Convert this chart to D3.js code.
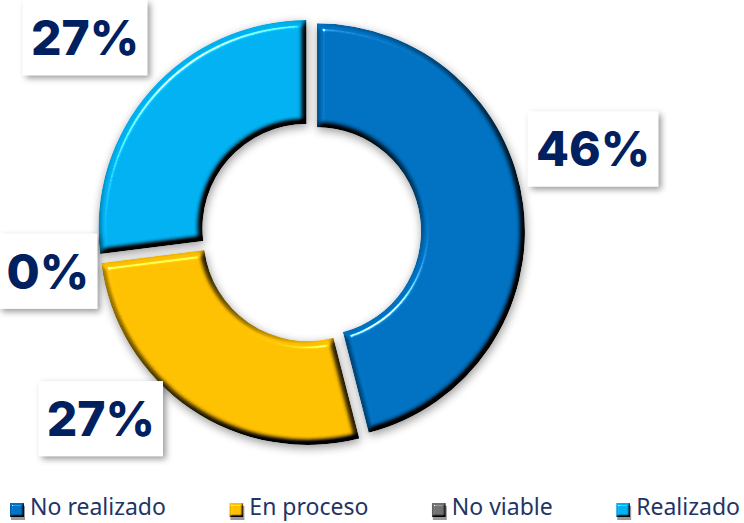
<!DOCTYPE html>
<html>
<head>
<meta charset="utf-8">
<script src="https://cdn.jsdelivr.net/npm/d3@7"></script>
<style>
  body { margin: 0; background: #fff; }
  svg { display: block; }
  .pctLabel { font-family: Inter, "Noto Sans", sans-serif; font-weight: 800; fill: #002060; }
  .legendText { font-family: "Noto Sans", "Open Sans", sans-serif; fill: #1f3565; }
</style>
</head>
<body>
<div id="chart"></div>
<script>
// chart data
var categories = ["No realizado", "En proceso", "No viable", "Realizado"];
var percents = [46, 27, 0, 27];
var colors = ["#0070c0", "#ffc000", "#707070", "#00b0f0"];

var svgWidth = 744;
var svgHeight = 523;

var cx = 311, cy = 232;
var outerR = 208, innerR = 104;
var explode = 6;

// label placement: shift from slice mid angle (degrees) and distance from centre
var labelShift = [-9.2, 14.2, -1.3, -0.7];
var labelDist = [294, 281, 266, 298];

var svg = d3.select("#chart")
  .append("svg")
  .attr("width", svgWidth)
  .attr("height", svgHeight);

var defs = svg.append("defs");

// bevel + soft shadow, like the excel 3d format
function bevelFilter(id, blur, scale, shadowBlur) {
  defs.append("filter")
    .attr("id", id)
    .attr("x", "-20%").attr("y", "-20%")
    .attr("width", "140%").attr("height", "140%")
    .attr("color-interpolation-filters", "sRGB")
    .html(
      `<feGaussianBlur in="SourceAlpha" stdDeviation="${blur}" result="blur"/>` +
      `<feDiffuseLighting in="blur" surfaceScale="${scale}" diffuseConstant="1.22" lighting-color="#fff" result="diff">` +
      '  <feDistantLight azimuth="235" elevation="55"/></feDiffuseLighting>' +
      '<feComposite in="SourceGraphic" in2="diff" operator="arithmetic" k1="1" k2="0" k3="0" k4="0" result="shaded"/>' +
      `<feSpecularLighting in="blur" surfaceScale="${scale}" specularConstant="1.1" specularExponent="50" lighting-color="#fff" result="spec">` +
      '  <feDistantLight azimuth="235" elevation="40"/></feSpecularLighting>' +
      '<feComposite in="spec" in2="SourceAlpha" operator="in" result="specIn"/>' +
      '<feComposite in="shaded" in2="specIn" operator="arithmetic" k1="0" k2="1" k3="1" k4="0" result="lit"/>' +
      '<feComposite in="lit" in2="SourceAlpha" operator="in" result="final"/>' +
      `<feGaussianBlur in="SourceAlpha" stdDeviation="${shadowBlur}" result="sb"/>` +
      '<feOffset in="sb" dx="1" dy="3" result="so"/>' +
      '<feComponentTransfer in="so" result="sh"><feFuncA type="linear" slope="0.4"/></feComponentTransfer>' +
      '<feMerge><feMergeNode in="sh"/><feMergeNode in="final"/></feMerge>'
    );
}
bevelFilter("bevel", 3, 10, 5);
bevelFilter("bevelSmall", 1.2, 3, 0.5);

defs.append("filter")
  .attr("id", "boxShadow")
  .attr("x", "-20%").attr("y", "-20%")
  .attr("width", "140%").attr("height", "140%")
  .html('<feDropShadow dx="3" dy="3" stdDeviation="3" flood-color="#000" flood-opacity="0.4"/>');

// pie layout, clockwise from 12 o'clock
var pie = d3.pie()
  .sort(null)
  .value(d => d);

var arcs = pie(percents);

var arc = d3.arc()
  .innerRadius(innerR)
  .outerRadius(outerR);

var chartGroup = svg.append("g")
  .attr("transform", `translate(${cx}, ${cy})`);

chartGroup.selectAll("path")
  .data(arcs)
  .enter()
  .append("path")
  .filter(d => d.endAngle > d.startAngle)
  .attr("d", arc)
  .attr("fill", d => colors[d.index])
  .attr("filter", "url(#bevel)")
  .attr("transform", function(d) {
    var a = (d.startAngle + d.endAngle) / 2;
    return `translate(${explode * Math.sin(a)}, ${-explode * Math.cos(a)})`;
  });

// percentage labels in white boxes
var labelGroup = chartGroup.selectAll(".lbl")
  .data(arcs)
  .enter()
  .append("g")
  .attr("class", "lbl")
  .attr("transform", function(d, i) {
    var a = (d.startAngle + d.endAngle) / 2 + labelShift[i] * Math.PI / 180;
    return `translate(${labelDist[i] * Math.sin(a)}, ${-labelDist[i] * Math.cos(a)})`;
  });

labelGroup.each(function(d, i) {
  var g = d3.select(this);
  var rect = g.append("rect")
    .attr("fill", "#fff")
    .attr("filter", "url(#boxShadow)");
  var t = g.append("text")
    .attr("class", "pctLabel")
    .attr("text-anchor", "middle")
    .attr("font-size", 48)
    .attr("y", 17.5)
    .text(percents[i] + "%");
  var bb = t.node().getBBox();
  rect.attr("x", bb.x - 8)
    .attr("y", bb.y - 8)
    .attr("width", bb.width + 16)
    .attr("height", bb.height + 16);
});

// legend along the bottom, spread from x=10 to x=740
var legend = svg.append("g")
  .attr("transform", "translate(10, 515)");
var items = legend.selectAll("g")
  .data(categories)
  .enter()
  .append("g");

items.append("rect")
  .attr("width", 14)
  .attr("height", 14)
  .attr("y", -12)
  .attr("fill", (d, i) => colors[i])
  .attr("filter", "url(#bevelSmall)");

items.append("text")
  .attr("class", "legendText")
  .attr("x", 20)
  .attr("font-size", 23)
  .text(d => d);

var widths = [];
items.each(function() {
  widths.push(20 + d3.select(this).select("text").node().getComputedTextLength());
});
var gap = (730 - d3.sum(widths)) / (widths.length - 1);
var xPos = 0;
items.attr("transform", function(d, i) {
  var x = xPos;
  xPos += widths[i] + gap;
  return `translate(${x}, 0)`;
});
</script>
</body>
</html>
